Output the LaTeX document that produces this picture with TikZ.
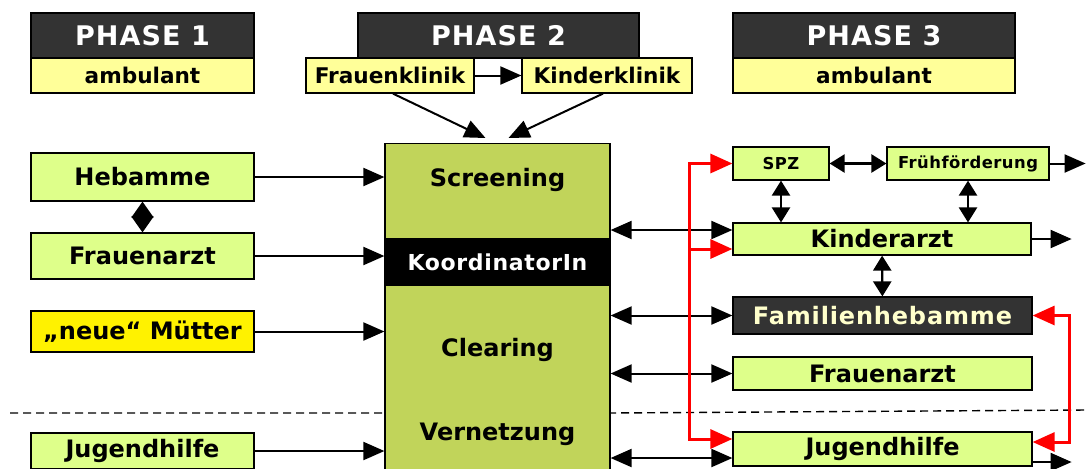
\documentclass[tikz,border=0pt]{standalone}
\usepackage{fontspec}
\setmainfont{DejaVu Sans}
\usepackage{xcolor}
\usepackage{tikz}
\usetikzlibrary{arrows.meta,positioning,shapes}

\definecolor{darkbox}{HTML}{333333}
\definecolor{lightgreen}{HTML}{DEFF8A}
\definecolor{blockgreen}{HTML}{C1D45A}
\definecolor{paleyellow}{HTML}{FFFF99}
\definecolor{cream}{HTML}{FFFFCC}

\tikzset{
  box/.style={draw=black, line width=0.6pt, inner sep=0pt, font=\bfseries\fontsize{12}{14}\selectfont},
  greenbox/.style={box, fill=lightgreen},
  phasebox/.style={box, fill=darkbox, text=white, font=\bfseries\fontsize{13.5}{16}\selectfont\addfontfeature{LetterSpace=4}},
  ambbox/.style={box, fill=paleyellow, font=\bfseries\fontsize{10.8}{12}\selectfont},
  smallbox/.style={greenbox, font=\bfseries\fontsize{8.2}{9}\selectfont\addfontfeature{LetterSpace=3}},
  blocklabel/.style={inner sep=0pt, font=\bfseries\fontsize{12}{14}\selectfont},
  arr/.style={line width=1pt, -{Triangle[length=10.5pt,width=9pt]}},
  darr/.style={line width=1pt, {Triangle[length=10.5pt,width=9pt]}-{Triangle[length=10.5pt,width=9pt]}},
  shortdarr/.style={line width=1.2pt, {Triangle[length=7.5pt,width=9pt]}-{Triangle[length=7.5pt,width=9pt]}},
  redarr/.style={red, line width=1.5pt, {Triangle[length=11pt,width=9.5pt]}-{Triangle[length=11pt,width=9.5pt]}},
  redone/.style={red, line width=1.5pt, -{Triangle[length=11pt,width=9.5pt]}}
}

\begin{document}
\begin{tikzpicture}[x=0.5pt,y=-0.5pt]
    \useasboundingbox (0,0) rectangle (1086,468);
    \clip (0,0) rectangle (1086,468);

    % Phases
    \node[phasebox, minimum width=111.5pt, minimum height=22.5pt] (ph1) at (142.5,35.5) {PHASE 1};
    \node[ambbox, minimum width=111.5pt, minimum height=17.5pt] (amb1) at (142.5,75.5) {ambulant};
    \node[phasebox, minimum width=140.5pt, minimum height=22.5pt] (ph2) at (498.5,35.5) {PHASE 2};
    \node[ambbox, minimum width=84pt, minimum height=17.5pt] (fklinik) at (390,75.5) {Frauenklinik};
    \node[ambbox, minimum width=85pt, minimum height=17.5pt] (kklinik) at (607,75.5) {Kinderklinik};
    \node[phasebox, minimum width=141pt, minimum height=22.5pt] (ph3) at (874,35.5) {PHASE 3};
    \node[ambbox, minimum width=141pt, minimum height=17.5pt] (amb3) at (874,75.5) {ambulant};

    % Separator
    \draw[line width=0.7pt, dash pattern=on 4pt off 2.5pt] (10,413) -- (610,413) -- (1086,410);

    % Coordination block
    \node[box, fill=blockgreen, minimum width=112.5pt, minimum height=180pt, anchor=north] (block) at (497.5,143) {};
    \node[box, fill=black, text=white, minimum width=112.5pt, minimum height=23pt,
          font=\bfseries\fontsize{11}{13}\selectfont\addfontfeature{LetterSpace=3}] (koord) at (497.5,262) {KoordinatorIn};
    \node[blocklabel] (screening) at (497.5,180) {Screening};
    \node[blocklabel] (clearing) at (497.5,350) {Clearing};
    \node[blocklabel] (vernetzung) at (497.5,434) {Vernetzung};

    % Left partners
    \node[greenbox, minimum width=111.5pt, minimum height=24pt] (hebamme) at (142.5,177) {Hebamme};
    \node[greenbox, minimum width=111.5pt, minimum height=23pt] (fa1) at (142.5,256) {Frauenarzt};
    \node[box, fill=yellow, minimum width=111.5pt, minimum height=20.5pt] (muetter) at (142.5,331.5) {„neue“ Mütter};
    \node[greenbox, minimum width=111.5pt, minimum height=18pt] (jh1) at (142.5,451) {Jugendhilfe};

    % Right partners
    \node[smallbox, minimum width=48pt, minimum height=16.5pt] (spz) at (781,163.5) {SPZ};
    \node[smallbox, minimum width=81pt, minimum height=16.5pt] (ff) at (968,163.5) {Frühförderung};
    \node[greenbox, minimum width=149pt, minimum height=16pt] (ka) at (882,239) {Kinderarzt};
    \node[box, fill=darkbox, text=cream, minimum width=149.5pt, minimum height=18.5pt,
          font=\bfseries\fontsize{12}{14}\selectfont\addfontfeature{LetterSpace=3.5}] (fh) at (882.5,315.5) {Familienhebamme};
    \node[greenbox, minimum width=149.5pt, minimum height=16.5pt] (fa2) at (882.5,373.5) {Frauenarzt};
    \node[greenbox, minimum width=149.5pt, minimum height=17pt] (jh2) at (882.5,449) {Jugendhilfe};

    % Anchors for arrows
    \coordinate (kaA) at ([yshift=4.5pt]ka.west);
    \coordinate (kaR) at ([yshift=-5pt]ka.west);
    \coordinate (jhA) at ([yshift=-4.5pt]jh2.west);
    \coordinate (jhR) at ([yshift=5pt]jh2.west);
    \coordinate (jhE) at ([yshift=3.5pt]jh2.east);
    \coordinate (ffOut) at ([xshift=18pt]ff.east);
    \coordinate (kaOut) at ([xshift=20pt]ka.east);
    \coordinate (jhOut) at ([xshift=19.5pt,yshift=-6.5pt]jh2.east);

    % Phase 2 arrows
    \draw[arr] (fklinik) -- (kklinik);
    \draw[arr] ([xshift=1.5pt]fklinik.south) -- ([shift={(-12,-5)}]block.north);
    \draw[arr] ([xshift=-2pt]kklinik.south) -- ([shift={(11,-5)}]block.north);

    % Left arrows
    \draw[arr] (hebamme.east) -- (hebamme.east -| block.west);
    \draw[arr] (fa1.east) -- (fa1.east -| block.west);
    \draw[arr] (muetter.east) -- (muetter.east -| block.west);
    \draw[arr] (jh1.east) -- (jh1.east -| block.west);
    \draw[line width=1pt, {Triangle[length=8pt,width=11pt]}-{Triangle[length=8pt,width=11pt]}] (hebamme) -- (fa1);

    % Right arrows
    \draw[darr] (block.east |- kaA) -- (kaA);
    \draw[darr] (block.east |- fh.west) -- (fh.west);
    \draw[darr] (block.east |- fa2.west) -- (fa2.west);
    \draw[darr] (block.east |- jhA) -- (jhA);
    \draw[shortdarr] (spz) -- (ff);
    \draw[shortdarr] (spz.south) -- (spz.south |- ka.north);
    \draw[shortdarr] (ff.south) -- (ff.south |- ka.north);
    \draw[shortdarr] (ka) -- (fh);
    \draw[arr] (ff.east) -- (ffOut);
    \draw[arr] (ka.east) -- (kaOut);
    \draw[arr] ([yshift=-6.5pt]jh2.east) -- (jhOut);

    % Red links
    \draw[redarr] (spz.west) -- ++(-43,0) |- (jhR);
    \draw[redone] ([xshift=-21.5pt]kaR) -- (kaR);
    \draw[redarr] (fh.east) -- ++(37,0) |- (jhE);
\end{tikzpicture}
\end{document}
